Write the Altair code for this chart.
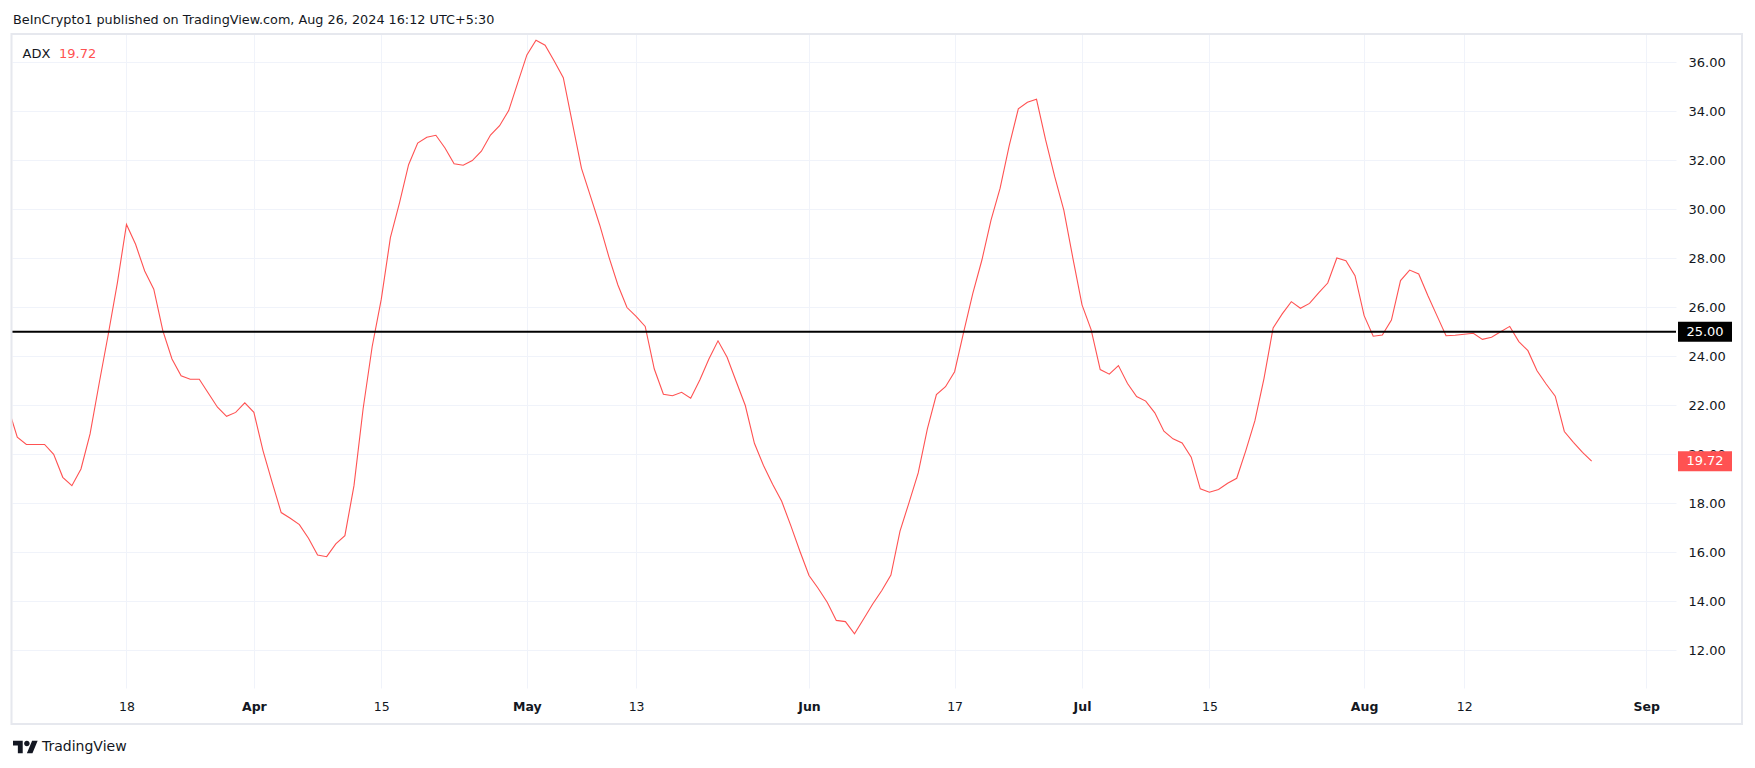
import altair as alt
import pandas as pd

# ---------------- data ----------------
start_date = "2024-03-05"
adx = [
    21.9, 20.7, 20.4, 20.4, 20.4, 20.0, 19.06, 18.72, 19.4, 20.83,
    22.9, 24.9, 27.0, 29.38, 28.57, 27.48, 26.74, 25.04, 23.89, 23.2,
    23.06, 23.06, 22.49, 21.92, 21.55, 21.71, 22.1, 21.71, 20.15, 18.86,
    17.62, 17.39, 17.13, 16.57, 15.89, 15.82, 16.34, 16.68, 18.72, 21.85,
    24.4, 26.33, 28.84, 30.26, 31.82, 32.7, 32.94, 33.02, 32.5, 31.86,
    31.8, 31.99, 32.37, 33.03, 33.41, 34.03, 35.17, 36.3, 36.9, 36.7,
    36.05, 35.37, 33.52, 31.67, 30.52, 29.36, 28.07, 26.91, 25.99, 25.63,
    25.22, 23.48, 22.45, 22.39, 22.53, 22.29, 23.03, 23.89, 24.63, 23.96,
    22.97, 21.99, 20.45, 19.54, 18.78, 18.08, 17.09, 16.04, 15.05, 14.53,
    13.96, 13.22, 13.17, 12.67, 13.28, 13.89, 14.44, 15.07, 16.86, 18.04,
    19.24, 21.03, 22.44, 22.76, 23.37, 25.0, 26.57, 27.93, 29.56, 30.86,
    32.6, 34.1, 34.37, 34.49, 32.83, 31.33, 29.97, 28.0, 26.1, 25.09,
    23.46, 23.27, 23.62, 22.89, 22.36, 22.17, 21.69, 20.94, 20.63, 20.46,
    19.88, 18.59, 18.45, 18.56, 18.82, 19.02, 20.15, 21.37, 23.1, 25.16,
    25.73, 26.23, 25.96, 26.16, 26.59, 26.99, 28.01, 27.9, 27.29, 25.66,
    24.82, 24.87, 25.48, 27.09, 27.52, 27.36, 26.48, 25.66, 24.84, 24.86,
    24.9, 24.94, 24.69, 24.78, 25.0, 25.22, 24.6, 24.23, 23.41, 22.87,
    22.37, 20.93, 20.49, 20.08, 19.72,
]
dates = pd.date_range(start_date, periods=len(adx), freq="D").strftime("%Y-%m-%d").tolist()

tick_dates = ["2024-03-18", "2024-04-01", "2024-04-15", "2024-05-01", "2024-05-13", "2024-06-01",
              "2024-06-17", "2024-07-01", "2024-07-15", "2024-08-01", "2024-08-12", "2024-09-01"]
tick_labels = ["18", "Apr", "15", "May", "13", "Jun", "17", "Jul", "15", "Aug", "12", "Sep"]
y_ticks = [12, 14, 16, 18, 20, 22, 24, 26, 28, 30, 32, 34, 36]

level = 25.0
last_value = 19.72
indicator = "ADX"
header = "BeInCrypto1 published on TradingView.com, Aug 26, 2024 16:12 UTC+5:30"
brand = "TradingView"

x_range = ["2024-03-05T10:05:00", "2024-09-04T06:30:00"]
y_range = [10.46, 37.155]

# ---------------- style ----------------
W, H = 1664, 654
FONT = "DejaVu Sans"
INK = "#131722"
RED = "#FF5252"
GRID = "#f0f3fa"


def ms(s):
    return int(pd.Timestamp(s, tz="UTC").value // 10**6)


tick_ms = [ms(d) for d in tick_dates]
label_expr = ("[" + ",".join(f"'{t}'" for t in tick_labels) + "][indexof(["
              + ",".join(str(m) for m in tick_ms) + "], +datum.value)]")

x_scale = alt.Scale(type="utc", domain=[ms(x_range[0]), ms(x_range[1])], nice=False)
y_scale = alt.Scale(domain=y_range, nice=False, zero=False)

x_axis = alt.Axis(values=tick_ms, labelExpr=label_expr, grid=True, gridColor=GRID,
                  gridWidth=1, domain=False, ticks=False, tickSize=0, labelPadding=12,
                  labelFont=FONT, labelFontSize=12.5, labelColor=INK,
                  labelFontWeight={"condition": {"test": "utcdate(datum.value) == 1",
                                                 "value": "bold"},
                                   "value": "normal"},
                  labelFlush=False, labelOverlap=False, zindex=0)
y_axis = alt.Axis(orient="right", values=y_ticks, format=".2f", grid=True,
                  gridColor=GRID, gridWidth=1, domain=False, ticks=False, tickSize=0,
                  labelPadding=12, labelFont=FONT, labelFontSize=13, labelColor=INK,
                  labelFlush=False, labelOverlap=False, zindex=0)

df = pd.DataFrame({"date": dates, "adx": adx})

line = alt.Chart(df).mark_line(color=RED, strokeWidth=1.1, clip=True).encode(
    x=alt.X("date:T", scale=x_scale, title=None, axis=x_axis),
    y=alt.Y("adx:Q", scale=y_scale, title=None, axis=y_axis),
)

rule = alt.Chart(pd.DataFrame({"adx": [level]})).mark_rule(color="#000000", strokeWidth=2).encode(
    y=alt.Y("adx:Q", scale=y_scale, title=None, axis=y_axis)
)

box_df = pd.DataFrame({
    "adx": [level, last_value],
    "lab": [f"{level:.2f}", f"{last_value:.2f}"],
    "c": ["#000000", RED],
})
rect_path = "M-1,-0.37L1,-0.37L1,0.37L-1,0.37Z"
boxes = alt.Chart(box_df).mark_point(shape=rect_path, size=54 * 54, filled=True, opacity=1,
                                     strokeWidth=0, clip=False).encode(
    x=alt.value(1693),
    y=alt.Y("adx:Q", scale=y_scale, title=None, axis=y_axis),
    color=alt.Color("c:N", scale=None),
)
box_text = alt.Chart(box_df).mark_text(color="white", font=FONT, fontSize=13, align="center",
                                       baseline="middle", clip=False).encode(
    x=alt.value(1693),
    y=alt.Y("adx:Q", scale=y_scale, title=None, axis=y_axis),
    text="lab:N",
)


def label(txt, x, y, size=13, color=INK, weight="normal", align="left"):
    return alt.Chart(pd.DataFrame({"t": [txt]})).mark_text(
        font=FONT, fontSize=size, color=color, fontWeight=weight, align=align,
        baseline="middle", clip=False
    ).encode(x=alt.value(x), y=alt.value(y), text="t:N")


header_t = label(header, 1, -14, size=12.8)
ind_t = label(indicator, 10.5, 20, size=13)
val_t = label(f"{last_value:.2f}", 47, 20, size=13, color=RED)
brand_t = label(brand, 30, 713, size=14)

logo_path = ("M-0.222,0.5L-0.611,0.5L-0.611,-0.111L-1,-0.111L-1,-0.5L-0.222,-0.5Z"
             "M0.556,0.5L0.111,0.5L0.528,-0.5L0.972,-0.5Z"
             "M-0.111,-0.278A0.222,0.222 0 1,0 0.333,-0.278A0.222,0.222 0 1,0 -0.111,-0.278Z")
logo = alt.Chart(pd.DataFrame({"k": [1]})).mark_point(
    shape=logo_path, size=625, filled=True, color=INK, opacity=1, strokeWidth=0, clip=False
).encode(x=alt.value(13.5), y=alt.value(713))

frame = alt.Chart(pd.DataFrame({"k": [1]})).mark_rect(
    fillOpacity=0, stroke="#e6e8ee", strokeWidth=2, clip=False
).encode(x=alt.value(-0.5), x2=alt.value(1730), y=alt.value(0), y2=alt.value(690))

chart = alt.layer(
    line, rule, boxes, box_text, header_t, ind_t, val_t, brand_t, logo, frame
).properties(
    width=W, height=H,
    autosize=alt.AutoSizeParams(type="none"),
    padding={"left": 4, "top": 26, "right": 68, "bottom": 66},
    background="white",
).configure_view(stroke=None)

chart.save("out.html", embed_options={"renderer": "svg", "actions": False})
